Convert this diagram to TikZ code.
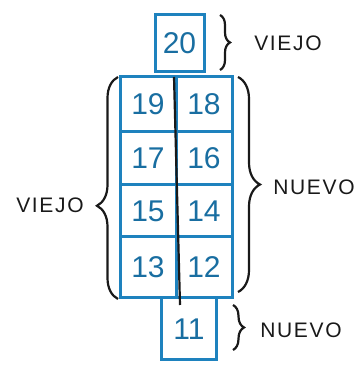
\documentclass[tikz,border=0pt]{standalone}
\usepackage{fontspec}
\setmainfont{Liberation Sans}
\usetikzlibrary{decorations.pathreplacing}
\definecolor{pen}{RGB}{30,130,190}
\definecolor{ink}{RGB}{25,25,25}
\begin{document}
\begin{tikzpicture}[x=1pt,y=1pt,
  cell/.style={draw=pen,line width=3pt,minimum width=56pt,inner sep=0pt,
    font=\fontsize{30}{30}\selectfont,text=pen!85!black},
  br/.style={draw=ink,line width=2.2pt,decorate,decoration={brace,amplitude=#1}},
  lab/.style={text=ink,inner sep=1pt,font=\fontsize{21}{21}\selectfont\addfontfeature{LetterSpace=8}}]
\useasboundingbox (0,0) rectangle (361,371);
% top box
\node[cell,minimum width=49pt,minimum height=57pt] (b20) at (179.5,327.5) {20};
% grid
\node[cell,minimum height=55pt] (b19) at (148,266.5) {19};
\node[cell,minimum height=55pt] (b18) at (204,266.5) {18};
\node[cell,minimum height=53pt] (b17) at (148,212.5) {17};
\node[cell,minimum height=53pt] (b16) at (204,212.5) {16};
\node[cell,minimum height=52pt] (b15) at (148,160) {15};
\node[cell,minimum height=52pt] (b14) at (204,160) {14};
\node[cell,minimum height=61pt] (b13) at (148,103.5) {13};
\node[cell,minimum height=61pt] (b12) at (204,103.5) {12};
% bottom box
\node[cell,minimum width=55pt,minimum height=62pt] (b11) at (189,42) {11};
% middle line
\coordinate (mtop) at (174,294);
\coordinate (mbot) at (180,66);
\draw[ink,line width=2.2pt] (mtop) -- (mbot);
% braces
\coordinate (t1) at (220,356); \coordinate (t2) at (220,301);
\draw[br=10pt] (t1) -- (t2);
\node[lab] (v1) at (288,328) {VIEJO};
\coordinate (l1) at (118,72); \coordinate (l2) at (118,294);
\draw[br=21pt,decoration={aspect=0.42}] (l1) -- (l2);
\node[lab] (v2) at (50,166) {VIEJO};
\coordinate (r1) at (238,294); \coordinate (r2) at (238,79);
\draw[br=22pt] (r1) -- (r2);
\node[lab] (n1) at (314,184) {NUEVO};
\coordinate (s1) at (233,66); \coordinate (s2) at (233,21);
\draw[br=11pt] (s1) -- (s2);
\node[lab] (n2) at (301,41) {NUEVO};
\end{tikzpicture}
\end{document}
